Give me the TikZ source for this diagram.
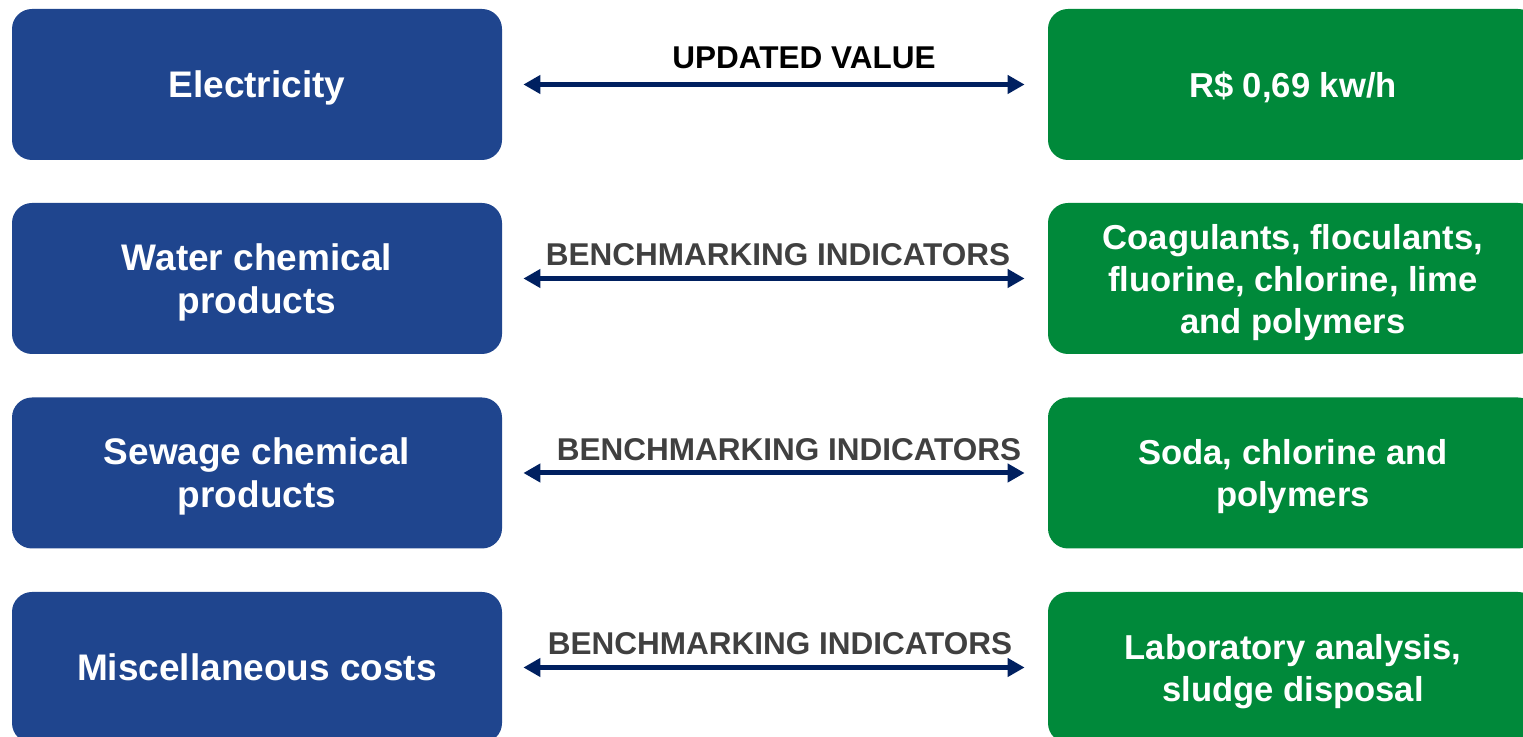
\documentclass[tikz,border=0pt]{standalone}
\usepackage{fontspec}
\setmainfont{Liberation Sans}
\usetikzlibrary{arrows.meta}

\definecolor{costblue}{RGB}{31,69,142}
\definecolor{valgreen}{RGB}{0,137,58}
\definecolor{linknavy}{RGB}{0,32,96}
\definecolor{labelgray}{RGB}{64,64,64}

\tikzset{
  costbox/.style={fill=costblue, rounded corners=10pt, minimum width=245pt, minimum height=75.5pt,
    inner sep=0pt, align=center, text=white, text depth=0pt, font=\fontsize{18.5}{21.5}\selectfont\bfseries},
  valuebox/.style={costbox, fill=valgreen, font=\fontsize{17.3}{21}\selectfont\bfseries},
  link/.style={linknavy, line width=2.5pt, {Triangle[length=8.5pt,width=9pt]}-{Triangle[length=8.5pt,width=9pt]},
    shorten <=10.5pt, shorten >=11.5pt},
  linklabel/.style={above=5pt, inner sep=0pt, text=labelgray, font=\fontsize{15.75}{18}\selectfont\bfseries}
}

\begin{document}
\begin{tikzpicture}[x=0.5pt,y=-0.5pt]
\useasboundingbox (0,0) rectangle (1523,737);
\clip (0,0) rectangle (1523,737);
% cost items
\node[costbox] (elec)   at (257,84.5)  {Electricity};
\node[costbox] (water)  at (257,278.5) {Water chemical\\products};
\node[costbox] (sewage) at (257,473)   {Sewage chemical\\products};
\node[costbox] (misc)   at (257,667.5) {Miscellaneous costs};
% values
\node[valuebox] (elecval)   at (1293,84.5)  {R\$ 0,69 kw/h};
\node[valuebox] (waterval)  at (1293,278.5) {Coagulants, floculants,\\fluorine, chlorine, lime\\and polymers};
\node[valuebox] (sewageval) at (1293,473)   {Soda, chlorine and\\polymers};
\node[valuebox] (miscval)   at (1293,667.5) {Laboratory analysis,\\sludge disposal};
% links
\draw[link] (elec) -- (elecval) node[midway, linklabel, text=black, xshift=14.5pt, yshift=1.5pt] (lab1) {UPDATED VALUE};
\foreach \a/\b/\dx in {water/waterval/1.5pt, sewage/sewageval/7pt, misc/miscval/2.5pt}
  \draw[link] (\a) -- (\b) node[midway, linklabel, xshift=\dx] (lab-\a) {BENCHMARKING INDICATORS};
\end{tikzpicture}
\end{document}
